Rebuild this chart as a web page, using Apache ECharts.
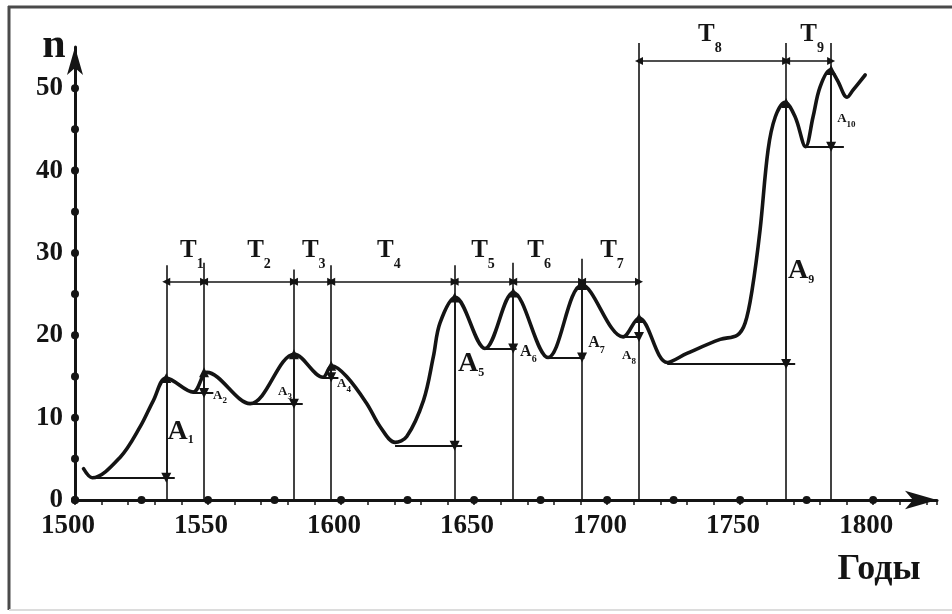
<!DOCTYPE html>
<html><head><meta charset="utf-8">
<script src="https://cdn.jsdelivr.net/npm/echarts@6/dist/echarts.min.js"></script>
<style>html,body{margin:0;padding:0;background:#fff}#c{width:952px;height:614px}</style>
</head><body><div id="c"></div>
<script>
// ---- data ----
const curveYears  = [1503.2,1506.5,1517,1524.5,1529.5,1534.3,1544.4,1549.6,1565.8,1582.5,1593.2,1596.5,1602.1,1609.7,1614.7,1620.3,1624.7,1631,1634.7,1637.2,1642.9,1654.1,1664.7,1677.8,1690.6,1706,1712,1722.6,1730,1742.5,1748.9,1751.9,1754.5,1757.5,1760.5,1763.2,1766.9,1770.7,1774.6,1777.4,1780,1783.8,1786.5,1790.2,1792.5,1797];
const curveValues = [3.8,2.7,5.2,8.9,12.1,14.8,13.1,15.5,11.7,17.7,14.9,16.3,15.0,11.7,8.9,7.0,7.7,12.1,17.4,21.5,24.6,18.4,25.2,17.3,26.1,19.8,22.1,16.7,17.8,19.5,20.0,21.5,25.5,32.8,42.5,46.5,48.3,46.5,42.9,46.5,50.1,52.2,51.0,48.9,49.8,51.6];

const boundaryYears = [1534.3,1548.5,1582.3,1596.3,1642.7,1664.7,1690.6,1712,1767.3,1784.2];
const boundaryTops  = [28.5,28.8,28.0,28.5,28.5,28.8,29.3,55.5,55.5,55.5];
const periodLevels  = [26.5,26.5,26.5,26.5,26.5,26.5,26.5,53.3,53.3];
const periodNames   = ['1','2','3','4','5','6','7','8','9'];
const periodLabelYears  = [1539.5,1564.7,1585.3,1613.5,1648.9,1670,1697.4,1734.2,1772.6];
const periodLabelValues = [31.8,31.8,31.8,31.8,31.8,31.8,31.8,58.0,58.0];

const ampYears      = [1534.3,1548.5,1582.3,1596.3,1642.7,1664.7,1690.6,1712,1767.3,1784.2];
const ampPeaks      = [14.8,15.5,17.7,16.3,24.6,25.2,26.1,22.1,48.2,52.2];
const ampBases      = [2.7,13.0,11.7,14.9,6.6,18.4,17.3,19.8,16.5,42.9];
const ampBaseStart  = [1506.5,1544.4,1565.8,1593.2,1620.3,1654.1,1677.8,1706,1722.6,1774.6];
const ampBaseEnd    = [1537.5,1552,1585.6,1599,1645.5,1666,1691.5,1712.5,1770.7,1789];
const ampNames      = ['1','2','3','4','5','6','7','8','9','10'];
const ampLabelYears  = [1534.8,1551.9,1576.3,1598.5,1644.0,1667.3,1692.9,1705.6,1768.0,1786.5];
const ampLabelValues = [10.0,13.5,14.0,14.9,18.25,18.9,20.0,18.3,29.5,47.05];
const ampLabelClass  = ['b','s','s','s','b','m','m','s','b','s'];

const xDotYears  = [1500,1525,1550,1575,1600,1625,1650,1675,1700,1725,1750,1775,1800];
const yDotValues = [0,5,10,15,20,25,30,35,40,45,50];
const xTickLabels = [1500,1550,1600,1650,1700,1750,1800];
const yTickLabels = [0,10,20,30,40,50];

// ---- styles ----
const INK = '#141414';
const SERIF = '"Liberation Serif","Times New Roman",serif';
function subStyles(m, s, delta) {
  const c = 0.85 * m + 0.33 * s + delta;
  return {
    main: {fontFamily: SERIF, fontWeight: 'bold', fontSize: m, lineHeight: m, verticalAlign: 'top', color: INK},
    sub:  {fontFamily: SERIF, fontWeight: 'bold', fontSize: s, lineHeight: 2 * c, color: INK}
  };
}
const tSt = subStyles(25, 14, 0);
const bSt = subStyles(28, 12, -5);
const mSt = subStyles(16, 10, -2);
const sSt = subStyles(13, 9, -2);
const rich = {
  tm: tSt.main, ts: tSt.sub,
  bm: bSt.main, bs: bSt.sub,
  mm: mSt.main, ms: mSt.sub,
  sm: sSt.main, ss: sSt.sub
};

const curveData = curveYears.map((y, i) => [y, curveValues[i]]);
const boundaryData = boundaryYears.map((y, i) => ({coords: [[y, 0], [y, boundaryTops[i]]]}));
const periodData = periodLevels.map((lv, i) => ({coords: [[boundaryYears[i], lv], [boundaryYears[i + 1], lv]]}));
const ampArrowData = ampYears.map((y, i) => ({coords: [[y, ampBases[i]], [y, ampPeaks[i]]]}));
const ampBaseData = ampYears.map((y, i) => ({coords: [[ampBaseStart[i], ampBases[i]], [ampBaseEnd[i], ampBases[i]]]}));
const dotData = xDotYears.map(y => [y, 0]).concat(yDotValues.map(v => [1500, v]));
const periodLabelData = periodNames.map((n, i) => ({value: [periodLabelYears[i], periodLabelValues[i]], name: n}));
const ampLabelData = ampNames.map((n, i) => ({value: [ampLabelYears[i], ampLabelValues[i]], name: n, cls: ampLabelClass[i]}));

const chart = echarts.init(document.getElementById('c'), null, {renderer: 'canvas'});
chart.setOption({
  backgroundColor: '#fff',
  animation: false,
  grid: {left: 75, right: 15, top: 47, bottom: 114},
  xAxis: {
    type: 'value', min: 1500, max: 1824, interval: 10,
    axisLine: {show: true, lineStyle: {color: INK, width: 3}, symbol: ['none', 'arrow'], symbolSize: [14, 32]},
    axisTick: {show: true, length: 5, lineStyle: {color: INK, width: 1.5}},
    splitLine: {show: false},
    axisLabel: {
      margin: 13, fontFamily: SERIF, fontWeight: 'bold', fontSize: 27, color: INK, padding: [0, 14, 0, 0],
      formatter: v => xTickLabels.indexOf(Math.round(v)) >= 0 && Math.abs(v - Math.round(v)) < 1e-6 ? String(Math.round(v)) : ''
    }
  },
  yAxis: {
    type: 'value', min: 0, max: 55, interval: 5,
    axisLine: {show: true, lineStyle: {color: INK, width: 3}, symbol: ['none', 'arrow'], symbolSize: [12, 28]},
    axisTick: {show: false},
    splitLine: {show: false},
    axisLabel: {
      margin: 12, fontFamily: SERIF, fontWeight: 'bold', fontSize: 27, color: INK,
      formatter: v => yTickLabels.indexOf(v) >= 0 ? String(v) : ''
    }
  },
  graphic: [
    {type: 'line', shape: {x1: 8, y1: 7, x2: 952, y2: 7}, style: {stroke: '#4a4a4a', lineWidth: 3}, silent: true},
    {type: 'line', shape: {x1: 9, y1: 6, x2: 9, y2: 610}, style: {stroke: '#4a4a4a', lineWidth: 3}, silent: true},
    {type: 'line', shape: {x1: 9, y1: 610, x2: 952, y2: 610}, style: {stroke: '#dcdcdc', lineWidth: 2}, silent: true},
    {type: 'text', x: 54, y: 46, style: {text: 'n', font: 'bold 42px ' + SERIF, fill: INK, align: 'center', verticalAlign: 'middle'}},
    {type: 'text', x: 879, y: 570, style: {text: 'Годы', font: 'bold 36px ' + SERIF, fill: INK, align: 'center', verticalAlign: 'middle'}}
  ],
  series: [
    {type: 'lines', coordinateSystem: 'cartesian2d', data: boundaryData, symbol: 'none', clip: false, silent: true,
     lineStyle: {color: INK, width: 1.6, opacity: 1}, z: 2},
    {type: 'lines', coordinateSystem: 'cartesian2d', data: periodData, symbol: ['triangle', 'triangle'], symbolSize: 8, clip: false, silent: true,
     lineStyle: {color: INK, width: 1.6, opacity: 1}, itemStyle: {color: INK, opacity: 1}, z: 3},
    {type: 'lines', coordinateSystem: 'cartesian2d', data: ampArrowData, symbol: ['triangle', 'triangle'], symbolSize: 10, clip: false, silent: true,
     lineStyle: {color: INK, width: 1.6, opacity: 1}, itemStyle: {color: INK, opacity: 1}, z: 3},
    {type: 'lines', coordinateSystem: 'cartesian2d', data: ampBaseData, symbol: 'none', clip: false, silent: true,
     lineStyle: {color: INK, width: 2, opacity: 1}, z: 3},
    {type: 'line', data: curveData, smooth: 0.35, symbol: 'none', clip: false, silent: true,
     lineStyle: {color: INK, width: 3.6, cap: 'round', join: 'round'}, z: 5},
    {type: 'scatter', data: dotData, symbol: 'circle', symbolSize: 8, clip: false, silent: true,
     itemStyle: {color: INK, opacity: 1}, z: 6},
    {type: 'scatter', data: periodLabelData, symbolSize: 0, clip: false, silent: true, z: 7,
     itemStyle: {opacity: 1},
     label: {show: true, position: [0, 0], align: 'left', verticalAlign: 'top', opacity: 1,
             formatter: p => '{tm|T}{ts|' + p.name + '}', rich: rich}},
    {type: 'scatter', data: ampLabelData, symbolSize: 0, clip: false, silent: true, z: 7,
     itemStyle: {opacity: 1},
     label: {show: true, position: [0, 0], align: 'left', verticalAlign: 'top', opacity: 1,
             formatter: p => { const c = p.data.cls; return '{' + c + 'm|A}{' + c + 's|' + p.name + '}'; }, rich: rich}}
  ]
});
</script>
</body></html>
